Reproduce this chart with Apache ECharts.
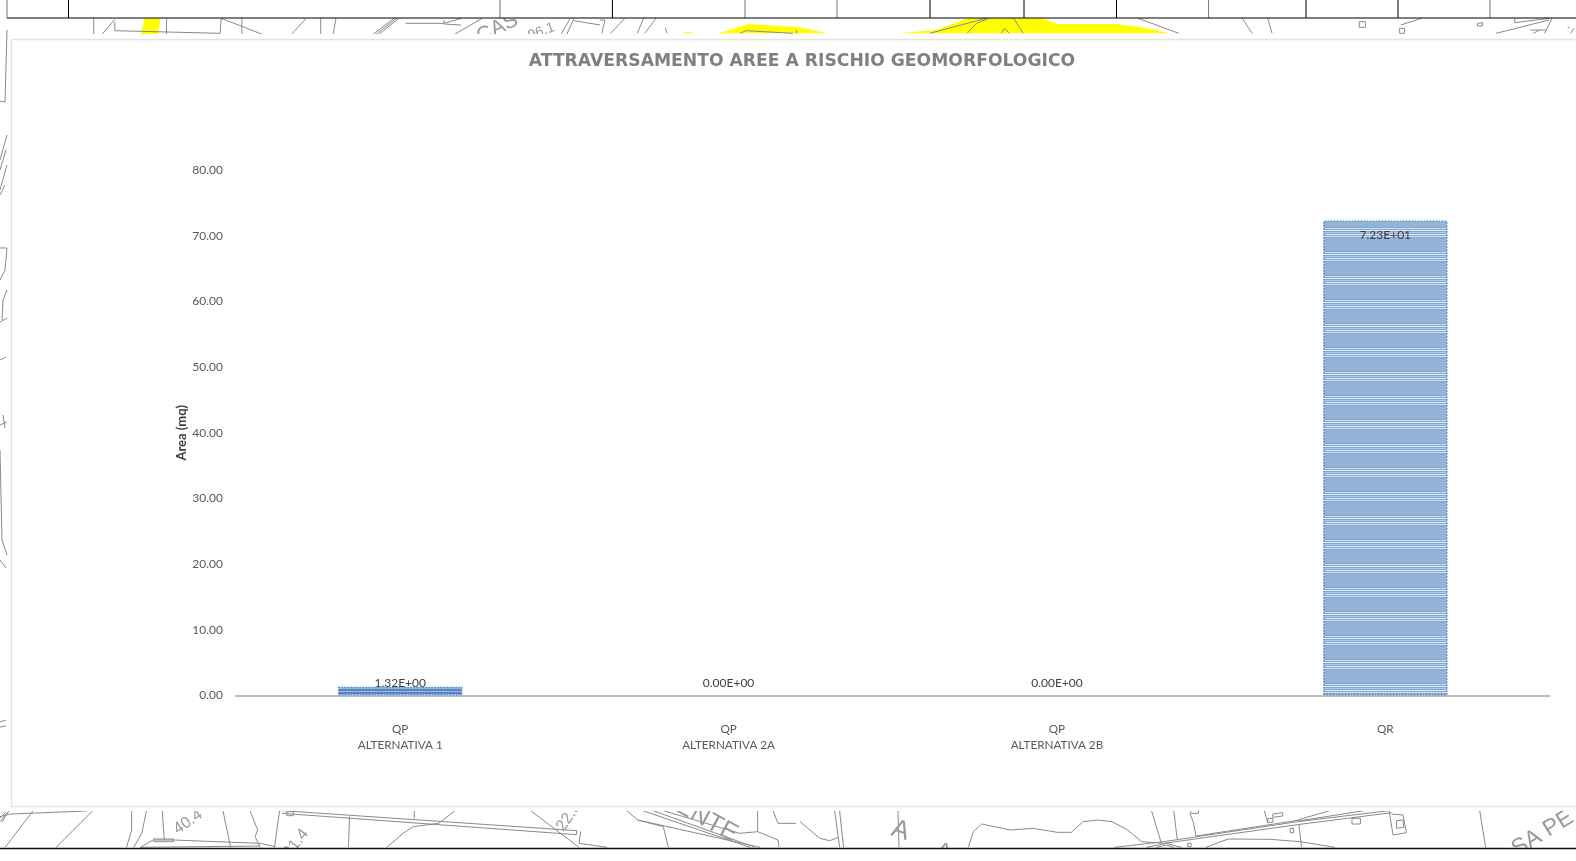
<!DOCTYPE html>
<html><head><meta charset="utf-8">
<style>html,body{margin:0;padding:0;background:#fff}#c{width:1576px;height:861px}</style>
<script src="https://cdn.jsdelivr.net/npm/echarts@6/dist/echarts.min.js"></script>
</head><body><div id="c"></div>
<script>
const chartTitle = 'ATTRAVERSAMENTO AREE A RISCHIO GEOMORFOLOGICO';
const categories = ['QP\nALTERNATIVA 1','QP\nALTERNATIVA 2A','QP\nALTERNATIVA 2B','QR'];
const areaValues = [1.32, 0, 0, 72.3];
const yTicks = {min:0, max:80, interval:10};
const yName = 'Area (mq)';

// Hatch patterns of the bars
const pat = document.createElement('canvas'); pat.width = 8; pat.height = 24;
(function(){
  const g = pat.getContext('2d');
  g.fillStyle = '#94b3d9'; g.fillRect(0,0,8,24);
  [[11,'#7ea5d6'],[12,'#d5e2f2'],[13,'#7ea5d6'],[14,'#e6eef8'],[15,'#7ea5d6'],[16,'#b6cbe6'],[17,'#7ea5d6'],[18,'#e6eef8'],[19,'#7ea5d6'],[20,'#d5e2f2'],[21,'#7ea5d6']]
    .forEach(r=>{g.fillStyle=r[1];g.fillRect(0,r[0],8,1);});
})();
const patDense = document.createElement('canvas'); patDense.width = 4; patDense.height = 3;
(function(){
  const g = patDense.getContext('2d');
  g.fillStyle = '#5585c4'; g.fillRect(0,0,4,3);
  g.fillStyle = '#9dbbe0'; g.fillRect(0,1,4,1);
})();

// Background drawing fragments (decoration behind the chart panel)
const z3=(x,y)=>[x/2.613,y/3], z5=(x,y)=>[600+x/1.607,y/3], z4=(x,y)=>[x/1.96,790+y/3], z6=(x,y)=>[800+x/2.02,790+y/3], id=(x,y)=>[x,y];
const grp=(f,lists)=>lists.map(l=>{const p=[];for(let i=0;i<l.length;i+=2)p.push(f(l[i],l[i+1]));return p;});
const mapLines = [].concat(
 grp(z3,[[245,55,245,105],[265,105,300,58],[300,65,300,92,575,100,578,55],[435,55,435,105],[578,55,690,105],[632,55,632,105],[760,105,800,55],[838,55,838,105],[878,55,870,105],[972,105,1030,55],[980,105,1036,55],[988,105,1042,55],[1060,70,1160,70,1205,55],[1160,60,1160,72,1205,75],[1185,105,1260,55],[1465,105,1490,55],[1480,105,1500,55],[1500,62,1568,75]]),
 grp(z5,[[0,60,8,60,3,100],[17,100,40,55],[60,100,70,55],[72,100,90,55],[105,85,108,100],[225,100,235,92,310,100],[316,90,316,100],[530,100,620,55],[590,100,605,70,625,55],[650,85,645,100],[650,85,658,100],[665,55,680,100],[865,55,930,100],[1032,55,1048,100],[1073,55,1080,100],[1220,65,1230,65,1230,82,1220,82,1220,65],[1287,75,1320,55],[1285,85,1293,85,1293,100,1285,100,1285,85],[1410,70,1418,68,1418,78,1410,78,1410,70],[1440,100,1525,60],[1470,55,1470,68,1525,55],[1495,90,1520,90],[1500,100,1510,90],[1518,100,1530,55],[1555,80,1558,85],[1560,100,1565,85]]),
 grp(z4,[[10,172,65,62],[0,80,20,72,170,63],[110,172,182,62],[0,95,18,62],[248,172,258,120,258,62],[262,172,278,130,287,62],[275,172,300,150,340,150,510,160,540,170],[300,155,340,155,340,147,300,147],[275,172,510,168],[318,62,322,150],[437,62,452,172],[490,62,505,120,500,140,510,172],[538,172,548,62],[553,62,1130,122],[553,70,1130,134],[1130,122,1130,134],[1138,125,1135,160,1190,172],[562,65,575,65,575,77,562,77,562,65],[685,80,683,172],[812,62,812,85],[892,62,860,100,810,110,790,130,758,172],[1040,62,1135,172],[1228,62,1250,90,1300,110,1310,172],[1250,90,1490,172],[1260,62,1470,172],[1280,62,1480,172],[1300,62,1450,130,1485,125,1525,150,1527,172],[1485,62,1485,125],[1515,62,1525,100,1560,100]]),
 grp(z6,[[0,95,40,145,60,152,78,142],[70,62,80,172],[80,62,88,172],[198,62,200,172],[340,172,350,125,367,102,425,120,470,115,520,127,548,127,572,95,600,90,630,95,660,118,690,155,735,160],[710,62,730,160],[755,62,762,148],[790,62,788,70,795,100,800,138],[790,70,805,70,805,62],[635,172,735,155,1005,95,1190,62],[800,138,1010,90],[735,160,1010,103,1195,68],[1005,90,1070,62],[1010,92,1140,62],[820,172,865,147,950,148,1010,155,1080,172],[1008,105,1013,172],[1190,62,1198,135,1225,128,1218,75,1195,72],[1205,92,1218,90,1220,112,1205,115,1205,92],[1115,85,1132,85,1132,102,1115,102,1115,85],[955,72,975,68,975,78,955,82,955,72],[945,85,955,85,955,97,945,97,945,85],[938,62,945,100],[990,115,997,115,997,128,990,128,990,115],[783,160,790,160,790,170,783,170,783,160],[1373,62,1385,172],[700,172,740,160,770,172],[720,172,740,165,755,172]]),
 grp(id,[[7,30,5,102,0,101],[7,135,0,160],[6,150,0,170],[7,165,0,190],[5,185,0,195],[0,248,7,248,5,270,0,280],[7,290,3,300,2,320],[0,322,7,318],[0,360,6,357],[0,425,7,422],[3,415,5,428],[0,450,2,540,7,555],[0,560,6,568],[0,722,6,720],[0,727,6,726],[0,818,6,812],[2,822,8,812]])
);
const yellowAreas = [].concat(
 grp(z3,[[378,55,420,55,412,105,368,105]]),
 grp(z5,[[130,100,140,95,155,100],[190,100,240,72,320,82,365,100],[480,100,540,90,590,55,710,55,735,72,830,72,880,85,915,100]])
);
const mapTexts = [
 {t:'CAS',  p:z3(1300,85), r:0.45, s:21},
 {t:'96.1', p:z3(1415,95), r:0.35, s:14},
 {t:'40.4', p:[188,822],   r:0.6,  s:16},
 {t:'21.4', p:z4(580,160), r:0.9,  s:16},
 {t:'22.5', p:z4(1115,80), r:0.95, s:16},
 {t:'ENTE', p:z4(1385,90), r:-0.5, s:25},
 {t:'A',    p:z6(203,122), r:-0.3, s:26},
 {t:'A',    p:z6(290,185), r:-0.3, s:22},
 {t:'SA PE',p:z6(1500,130),r:0.55, s:23}
];
const tableV = [[7,'#777'],[68.5,'#000'],[500,'#666'],[612.4,'#000'],[745,'#777'],[837,'#777'],[930,'#000'],[1024,'#000'],[1116.5,'#000'],[1208.6,'#777'],[1306,'#000'],[1398,'#000'],[1490,'#777']];

const graphics = [];
yellowAreas.forEach(p=>graphics.push({type:'polygon',silent:true,shape:{points:p},style:{fill:'#ffff00'}}));
mapLines.forEach(p=>graphics.push({type:'polyline',silent:true,shape:{points:p},style:{stroke:'#8a8a8a',lineWidth:1,fill:null}}));
mapTexts.forEach(m=>graphics.push({type:'text',silent:true,x:m.p[0],y:m.p[1],rotation:m.r,style:{text:m.t,fontFamily:'Liberation Sans',fontSize:m.s,fill:'#999',align:'center',verticalAlign:'middle'}}));
graphics.push({type:'rect',silent:true,shape:{x:8,y:34,width:1568,height:777},style:{fill:'#fff'}});
graphics.push({type:'rect',silent:true,shape:{x:0,y:849,width:1576,height:12},style:{fill:'#fff'}});
graphics.push({type:'rect',silent:true,shape:{x:0,y:0,width:1576,height:18},style:{fill:'#fff'}});
graphics.push({type:'rect',silent:true,shape:{x:11.5,y:39.5,width:1580,height:767},style:{fill:'#fff',stroke:'#e4e4e4',lineWidth:1.5}});
tableV.forEach(v=>graphics.push({type:'line',silent:true,shape:{x1:v[0],y1:0,x2:v[0],y2:18},style:{stroke:v[1],lineWidth:1}}));
graphics.push({type:'line',silent:true,shape:{x1:7,y1:18,x2:1576,y2:18},style:{stroke:'#000',lineWidth:1.2}});
graphics.push({type:'line',silent:true,shape:{x1:0,y1:848.5,x2:1576,y2:848.5},style:{stroke:'#111',lineWidth:1.5}});
graphics.forEach(g=>{g.z=0;g.zlevel=0;});

const fmt = v => { const e = v===0?0:Math.floor(Math.log10(Math.abs(v))); const m=(v/Math.pow(10,e)).toFixed(2); return m+'E+'+String(e).padStart(2,'0'); };
const barData = areaValues.map(v=>({
  value:v,
  itemStyle: v===0 ? {borderWidth:0,borderColor:'transparent',color:'transparent'} : (v<10 ? {color:{image:patDense,repeat:'repeat'}} : {}),
  label: v>10 ? {position:'insideTop',distance:9} : {position:'top',distance: v>0?-2:6.5}
}));

const chart = echarts.init(document.getElementById('c'),null,{renderer:'canvas'});
chart.setOption({
  animation:false,
  backgroundColor:'#fff',
  graphic:{elements:graphics},
  title:{text:chartTitle,left:797,top:48,textAlign:'center',textStyle:{fontFamily:'DejaVu Sans',fontWeight:'bold',fontSize:17.2,color:'#808080'}},
  grid:{left:236,right:26.5,top:170,bottom:165.5,containLabel:false},
  xAxis:{type:'category',data:categories,axisTick:{show:false},
    axisLine:{lineStyle:{color:'#bfbfbf',width:2}},
    axisLabel:{fontFamily:'Lato',fontSize:11.7,color:'#595959',lineHeight:16,margin:26,interval:0}},
  yAxis:{type:'value',min:yTicks.min,max:yTicks.max,interval:yTicks.interval,
    name:yName,nameLocation:'middle',nameGap:48,nameMoveOverlap:false,nameTextStyle:{fontFamily:'Lato',fontWeight:'bold',fontSize:13,color:'#404040'},
    splitLine:{show:false},axisLine:{show:false},axisTick:{show:false},
    axisLabel:{fontFamily:'Lato',fontSize:12,color:'#595959',margin:13,formatter:v=>v.toFixed(2)}},
  series:[{type:'bar',data:barData,barWidth:124.5,
    itemStyle:{color:{image:pat,repeat:'repeat'},borderColor:'#5a8ac8',borderWidth:1.5,borderType:'dotted'},
    label:{show:true,fontFamily:'Lato',fontSize:12,color:'#404040',formatter:p=>fmt(p.value)}
  }]
});
</script></body></html>
